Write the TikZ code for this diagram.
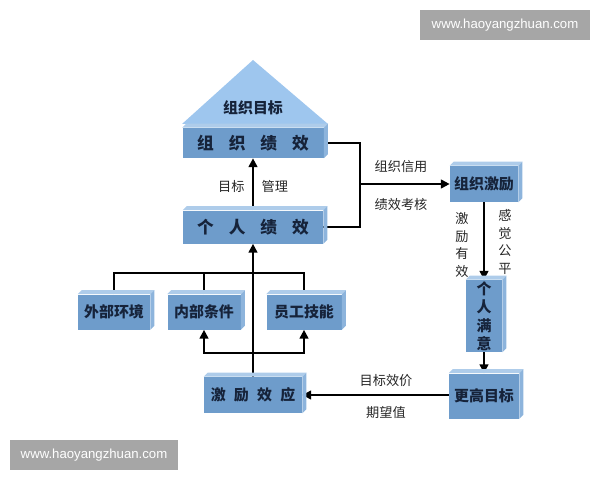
\documentclass[tikz,border=0pt]{standalone}
\usepackage{fontspec}
\setmainfont{Noto Sans CJK SC}
\newfontfamily\wmfont{Liberation Sans}
\usetikzlibrary{arrows.meta,backgrounds}

\definecolor{front}{HTML}{6E9CCB}
\definecolor{topface}{HTML}{AECCEA}
\definecolor{sideface}{HTML}{8DB4DC}
\definecolor{tri}{HTML}{9EC6EE}
\definecolor{ink}{HTML}{16233A}
\definecolor{wmgray}{HTML}{A6A6A6}

\tikzset{
  box/.style={fill=front, inner sep=0pt, text=ink, font=\bfseries\fontsize{8.5pt}{10pt}\selectfont},
  bigbox/.style={box, font=\bfseries\fontsize{9.5pt}{11pt}\selectfont},
  lbl/.style={inner sep=0pt, text=black!85, font=\fontsize{7.5pt}{10pt}\selectfont, align=center},
  arr/.style={line width=1.1pt, -{Triangle[length=5pt,width=5pt]}},
  ln/.style={line width=1.1pt},
  wm/.style={fill=wmgray, text=white, inner sep=0pt, minimum width=34mm, minimum height=6mm, font=\wmfont\fontsize{7.5pt}{8pt}\selectfont}
}
\newcommand\kong{\hspace{.9em}}

\begin{document}
\begin{tikzpicture}[x=0.2mm,y=-0.2mm]
\useasboundingbox (0,0) rectangle (600,480);

% watermarks
\node[wm] (wma) at (505,25) {www.haoyangzhuan.com};
\node[wm, minimum width=33.6mm] (wmb) at (94,455) {www.haoyangzhuan.com};

% top triangle
\fill[tri] (253,60) -- (182,124) -- (328,124) -- cycle;
\node[inner sep=0pt, text=ink, font=\bfseries\fontsize{8.5pt}{10pt}\selectfont] (mubiao) at (253,108) {组织目标};

% boxes
\node[bigbox, minimum width=28.2mm, minimum height=6mm] (zzjx) at (253,143) {组\kong 织\kong 绩\kong 效};
\node[bigbox, minimum width=28mm, minimum height=6.6mm] (grjx) at (253,227) {个\kong 人\kong 绩\kong 效};
\node[box, minimum width=14.4mm, minimum height=7mm] (wbhj) at (114,312) {外部环境};
\node[box, minimum width=14.6mm, minimum height=7mm] (nbtj) at (204,312) {内部条件};
\node[box, minimum width=15mm, minimum height=7mm] (ygjn) at (304,312) {员工技能};
\node[box, minimum width=19.6mm, minimum height=7.2mm] (jlxy) at (253,395) {激\hspace{.55em}励\hspace{.55em}效\hspace{.55em}应};
\node[box, minimum width=13.6mm, minimum height=7.2mm] (zzjl) at (484,184) {组织激励};
\node[box, minimum width=7.2mm, minimum height=14.4mm, align=center, font=\bfseries\fontsize{8.5pt}{10.5pt}\selectfont] (grmy) at (484,316) {个\\人\\满\\意};
\node[box, minimum width=14mm, minimum height=9mm] (ggmb) at (484,396) {更高目标};

% 3D faces
\foreach \n in {zzjx,grjx,wbhj,nbtj,ygjn,jlxy,zzjl,grmy,ggmb}{
  \fill[topface] (\n.north west) -- ++(4,-4) -- ([shift={(4,-4)}]\n.north east) -- (\n.north east) -- cycle;
  \fill[sideface] (\n.north east) -- ++(4,-4) -- ([shift={(4,-4)}]\n.south east) -- (\n.south east) -- cycle;
}

% labels
\node[lbl] (mbgl) at (253,186) {目标\hspace{1.3em}管理};
\node[lbl] (zzxy) at (401,167) {组织信用};
\node[lbl] (jxkh) at (401,204) {绩效考核};
\node[lbl] (jlyx) at (462,245) {激\\励\\有\\效};
\node[lbl] (jggp) at (505,242) {感\\觉\\公\\平};
\node[lbl] (mbxj) at (386,381) {目标效价};
\node[lbl] (qwz) at (386,413) {期望值};

% connectors
\coordinate (jc) at (360,184);
\coordinate (up) at (253,273);
\coordinate (dn) at (253,353);
\begin{scope}[on background layer]
\draw[arr] (grjx.north) -- (zzjx.south);
\draw[ln] (zzjx.east) -| (jc);
\draw[ln] (grjx.east) -| (jc);
\draw[arr] (jc) -- (zzjl.west);
\draw[arr] (zzjl.south) -- (grmy.north);
\draw[arr] (grmy.south) -- (ggmb.north);
\draw[arr] (ggmb.west |- jlxy.east) -- (jlxy.east);
\draw[arr] (jlxy.north) -- (grjx.south);
\draw[ln] (wbhj.north) |- (up) -| (ygjn.north);
\draw[ln] (nbtj.north) -- (nbtj.north |- up);
\draw[arr] (dn) -| (nbtj.south);
\draw[arr] (dn) -| (ygjn.south);
\end{scope}
\end{tikzpicture}
\end{document}
